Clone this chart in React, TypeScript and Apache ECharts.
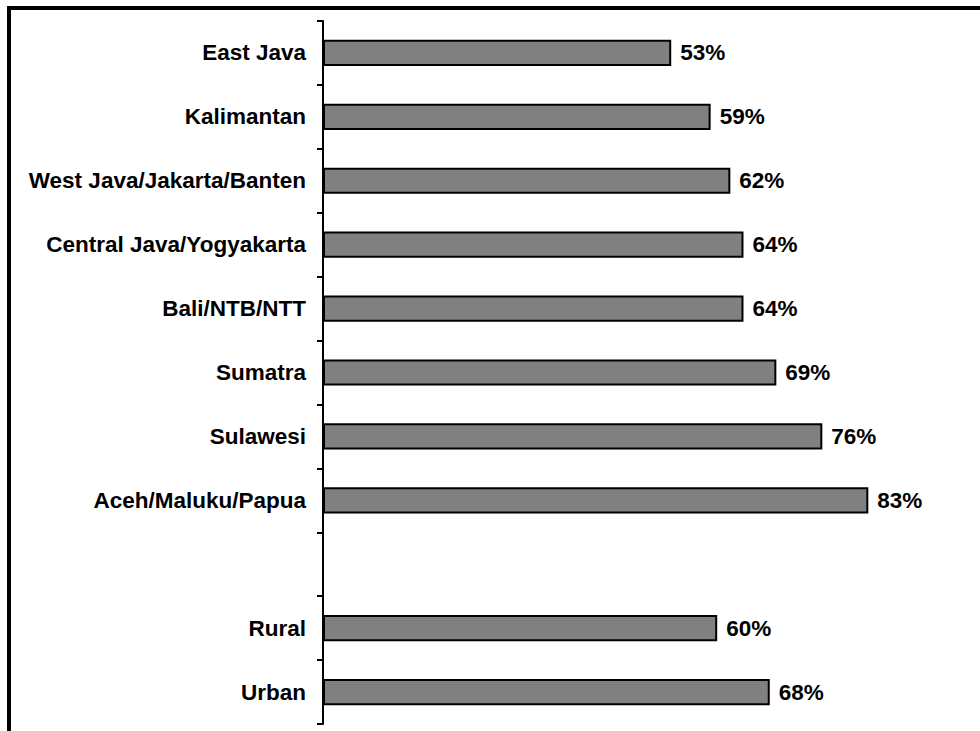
import React, { useEffect, useRef } from "react";
import * as echarts from "echarts";

const categories = [
  "East Java",
  "Kalimantan",
  "West Java/Jakarta/Banten",
  "Central Java/Yogyakarta",
  "Bali/NTB/NTT",
  "Sumatra",
  "Sulawesi",
  "Aceh/Maluku/Papua",
  "",
  "Rural",
  "Urban",
];
const values: (number | null)[] = [53, 59, 62, 64, 64, 69, 76, 83, null, 60, 68];

export default function App() {
  const ref = useRef<HTMLDivElement>(null);
  useEffect(() => {
    if (!ref.current) return;
    const chart = echarts.init(ref.current, undefined, { renderer: "svg" });
    const font = "'Liberation Sans', Arial, sans-serif";
    chart.setOption({
      animation: false,
      backgroundColor: "#ffffff",
      grid: { left: 323, right: 0, top: 21, bottom: 7, containLabel: false },
      xAxis: {
        type: "value",
        min: 0,
        max: 100,
        show: false,
        splitLine: { show: false },
      },
      yAxis: {
        type: "category",
        data: categories,
        inverse: true,
        axisLine: { show: true, lineStyle: { color: "#000", width: 2 } },
        axisTick: { show: true, length: 6, lineStyle: { color: "#000", width: 2 } },
        axisLabel: {
          margin: 17,
          color: "#000",
          fontFamily: font,
          fontWeight: "bold",
          fontSize: 22.5,
        },
      },
      series: [
        {
          type: "bar",
          data: values,
          barWidth: "41%",
          itemStyle: { color: "#808080", borderColor: "#000", borderWidth: 2 },
          label: {
            show: true,
            position: "right",
            distance: 9,
            formatter: (p: any) => (p.value == null ? "" : p.value + "%"),
            color: "#000",
            fontFamily: font,
            fontWeight: "bold",
            fontSize: 22.5,
          },
        },
      ],
      graphic: [
        { type: "rect", shape: { x: 7, y: 6, width: 973, height: 4 }, style: { fill: "#000" } },
        { type: "rect", shape: { x: 7, y: 6, width: 4, height: 725 }, style: { fill: "#000" } },
      ],
    });
    return () => chart.dispose();
  }, []);
  return (
    <div
      ref={ref}
      style={{ position: "fixed", left: 0, top: 0, width: 980, height: 731 }}
    />
  );
}
